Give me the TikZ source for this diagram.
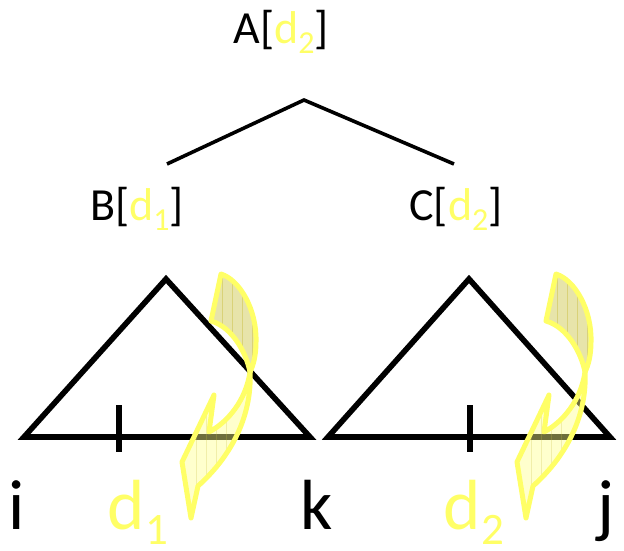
\documentclass[tikz,border=0pt]{standalone}
\usepackage{fontspec}
\setmainfont{Carlito}
\definecolor{hl}{RGB}{255,255,102}
\definecolor{backfill}{RGB}{200,192,57}
\definecolor{frontfill}{RGB}{255,255,140}
\definecolor{stripe}{RGB}{200,190,60}
\newcommand{\sublabel}[3]{#1[\textcolor{hl}{d\raisebox{-0.22em}{\fontsize{#3}{#3}\selectfont #2}}]}
\newcommand{\dsub}[2]{\textcolor{hl}{d\raisebox{-0.22em}{\fontsize{#2}{#2}\selectfont #1}}}
\tikzset{
  toplab/.style={inner sep=0pt, anchor=base, font=\fontsize{46}{55}\selectfont},
  botlab/.style={inner sep=0pt, anchor=base, font=\fontsize{71}{80}\selectfont},
  treeline/.style={line width=3.6pt},
  tri/.style={line width=5.6pt, line join=miter},
  tick/.style={line width=6.5pt},
  ribbon/.style={draw=hl, line width=5pt, line join=round},
  backpart/.style={fill=backfill, fill opacity=0.43},
  frontpart/.style={fill=frontfill, fill opacity=0.43},
  stripes/.style={draw=stripe, line width=0.8pt, opacity=0.45}
}
\begin{document}
\begin{tikzpicture}[x=1pt,y=-1pt]
\useasboundingbox (0,0) rectangle (624,550);
% labels
\node[toplab] (a) at (281,43) {\sublabel{A}{2}{32}};
\node[toplab] (b) at (137,220) {\sublabel{B}{1}{32}};
\node[toplab] (c) at (456,220) {\sublabel{C}{2}{32}};
% tree
\coordinate (root) at (304,100);
\coordinate (lb) at (167,164);
\coordinate (rb) at (454,164);
\draw[treeline] (lb) -- (root) -- (rb);
% triangles
\draw[tri] (166,279) -- (24,437) -- (310,437) -- cycle;
\draw[tri] (469,279) -- (328,437) -- (610,437) -- cycle;
\coordinate (t1a) at (119,405); \coordinate (t1b) at (119,452);
\coordinate (t2a) at (470,405); \coordinate (t2b) at (470,452);
\draw[tick] (t1a) -- (t1b);
\draw[tick] (t2a) -- (t2b);
% bottom labels
\node[botlab] (i) at (17,529) {i};
\node[botlab] (d1) at (138,529) {\dsub{1}{45}};
\node[botlab] (k) at (317,529) {k};
\node[botlab] (d2) at (474,529) {\dsub{2}{45}};
\node[botlab] (j) at (606,529) {j};
% ribbons
\foreach \s in {0,335}{
\begin{scope}[xshift=\s pt]
\path[backpart] (221,274) .. controls (240,280) and (257,310) .. (256,342)
   .. controls (256,356) and (253,366) .. (250,372)
   .. controls (246,352) and (232,327) .. (211,321) -- cycle;
\begin{scope}
\clip (221,274) .. controls (240,280) and (257,310) .. (256,342)
   .. controls (256,356) and (253,366) .. (250,372)
   .. controls (246,352) and (232,327) .. (211,321) -- cycle;
\foreach \x in {222,232,242,252} \draw[stripes] (\x,270) -- (\x,380);
\end{scope}
\path[frontpart] (250,372) .. controls (252,410) and (236,452) .. (198,486)
   -- (191,518) -- (182,462) -- (214,395) -- (209,432)
   .. controls (228,422) and (246,400) .. (250,372) -- cycle;
\begin{scope}
\clip (250,372) .. controls (252,410) and (236,452) .. (198,486)
   -- (191,518) -- (182,462) -- (214,395) -- (209,432)
   .. controls (228,422) and (246,400) .. (250,372) -- cycle;
\foreach \x in {196,206,216,226} \draw[stripes, opacity=0.25] (\x,380) -- (\x,520);
\end{scope}
\draw[ribbon] (221,274) .. controls (240,280) and (257,310) .. (256,342)
   .. controls (256,356) and (253,366) .. (250,372)
   .. controls (246,352) and (232,327) .. (211,321) -- cycle;
\draw[ribbon] (250,372) .. controls (252,410) and (236,452) .. (198,486)
   -- (191,518) -- (182,462) -- (214,395) -- (209,432)
   .. controls (228,422) and (246,400) .. (250,372) -- cycle;
\end{scope}
}
\end{tikzpicture}
\end{document}
